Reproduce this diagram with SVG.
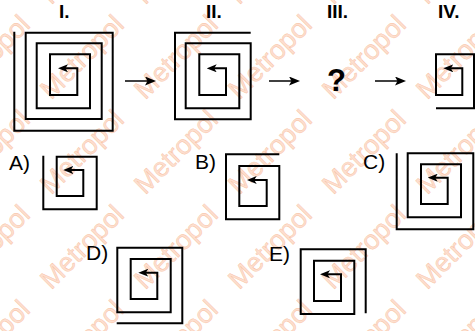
<svg xmlns="http://www.w3.org/2000/svg" width="475" height="331" viewBox="0 0 475 331">
<style>
.wm{font-family:"Liberation Sans",Arial,sans-serif;font-size:27px;fill:#fddfcf;stroke:#f8bd9d;stroke-width:0.4;text-anchor:middle;dominant-baseline:central}
.sp{fill:none;stroke:#000;stroke-width:2;marker-start:url(#sh)}
.rn{font-family:"Liberation Sans",Arial,sans-serif;font-weight:bold;font-size:19px;fill:#000}
.op{font-family:"Liberation Sans",Arial,sans-serif;font-size:21px;fill:#000}
.cn{stroke:#000;stroke-width:1.5;fill:none;marker-end:url(#ah)}
</style>
<defs>
<marker id="sh" markerUnits="userSpaceOnUse" viewBox="0 0 10 8" markerWidth="10" markerHeight="8" refX="3" refY="4" orient="auto-start-reverse">
<path d="M0,0 L10,4 L0,8 L2.5,4 z" fill="#000"/>
</marker>
<marker id="ah" markerUnits="userSpaceOnUse" viewBox="0 0 11 9" markerWidth="11" markerHeight="9" refX="5" refY="4.5" orient="auto">
<path d="M0,0 L11,4.5 L0,9 L2.5,4.5 z" fill="#000"/>
</marker>
</defs>
<rect width="475" height="331" fill="#fff"/>
<g id="watermark">
<text class="wm" x="-12" y="-38" transform="rotate(-45 -12 -38)">Metropol</text>
<text class="wm" x="82" y="-38" transform="rotate(-45 82 -38)">Metropol</text>
<text class="wm" x="176" y="-38" transform="rotate(-45 176 -38)">Metropol</text>
<text class="wm" x="270" y="-38" transform="rotate(-45 270 -38)">Metropol</text>
<text class="wm" x="364" y="-38" transform="rotate(-45 364 -38)">Metropol</text>
<text class="wm" x="458" y="-38" transform="rotate(-45 458 -38)">Metropol</text>
<text class="wm" x="-12" y="57" transform="rotate(-45 -12 57)">Metropol</text>
<text class="wm" x="82" y="57" transform="rotate(-45 82 57)">Metropol</text>
<text class="wm" x="176" y="57" transform="rotate(-45 176 57)">Metropol</text>
<text class="wm" x="270" y="57" transform="rotate(-45 270 57)">Metropol</text>
<text class="wm" x="364" y="57" transform="rotate(-45 364 57)">Metropol</text>
<text class="wm" x="458" y="57" transform="rotate(-45 458 57)">Metropol</text>
<text class="wm" x="-12" y="152" transform="rotate(-45 -12 152)">Metropol</text>
<text class="wm" x="82" y="152" transform="rotate(-45 82 152)">Metropol</text>
<text class="wm" x="176" y="152" transform="rotate(-45 176 152)">Metropol</text>
<text class="wm" x="270" y="152" transform="rotate(-45 270 152)">Metropol</text>
<text class="wm" x="364" y="152" transform="rotate(-45 364 152)">Metropol</text>
<text class="wm" x="458" y="152" transform="rotate(-45 458 152)">Metropol</text>
<text class="wm" x="-12" y="247" transform="rotate(-45 -12 247)">Metropol</text>
<text class="wm" x="82" y="247" transform="rotate(-45 82 247)">Metropol</text>
<text class="wm" x="176" y="247" transform="rotate(-45 176 247)">Metropol</text>
<text class="wm" x="270" y="247" transform="rotate(-45 270 247)">Metropol</text>
<text class="wm" x="364" y="247" transform="rotate(-45 364 247)">Metropol</text>
<text class="wm" x="458" y="247" transform="rotate(-45 458 247)">Metropol</text>
<text class="wm" x="-12" y="342" transform="rotate(-45 -12 342)">Metropol</text>
<text class="wm" x="82" y="342" transform="rotate(-45 82 342)">Metropol</text>
<text class="wm" x="176" y="342" transform="rotate(-45 176 342)">Metropol</text>
<text class="wm" x="270" y="342" transform="rotate(-45 270 342)">Metropol</text>
<text class="wm" x="364" y="342" transform="rotate(-45 364 342)">Metropol</text>
<text class="wm" x="458" y="342" transform="rotate(-45 458 342)">Metropol</text>
</g>
<g id="fig-I">
<text class="rn" x="59" y="18">I.</text>
<path class="sp" d="M65,68.3 H77.3 V95 H50 V54.3 H90 V108.3 H36.7 V43.3 H101.7 V119 H25.7 V32.7 H112.7 V130.7 H14.3 V31.7"/>
</g>
<g id="fig-II">
<text class="rn" x="206" y="18">II.</text>
<path class="sp" d="M213.7,68.3 H226 V95 H199.3 V54.3 H239.3 V108.3 H185.7 V43.3 H250.7 V119.3 H175 V32.7 H250.7"/>
</g>
<g id="fig-III">
<text class="rn" x="327" y="18">III.</text>
<text class="rn" x="327" y="91" style="font-size:31px">?</text>
</g>
<g id="fig-IV">
<text class="rn" x="438" y="18">IV.</text>
<path class="sp" d="M450.3,68.3 H462.3 V95 H436 V54.3 H474 V108.3 H436"/>
</g>
<g id="opt-A">
<text class="op" x="9" y="170">A)</text>
<path class="sp" d="M70.3,170 H83.3 V196 H56.7 V156.7 H96.7 V209.3 H43.3 V155.7"/>
</g>
<g id="opt-B">
<text class="op" x="195" y="169">B)</text>
<path class="sp" d="M253.7,180 H266.7 V206 H239.3 V166 H279.3 V219.3 H226 V154.3 H279.3"/>
</g>
<g id="opt-C">
<text class="op" x="363" y="169">C)</text>
<path class="sp" d="M434.7,177.7 H447.7 V204 H421 V164.3 H461 V217.3 H407.7 V153.3 H473.3 V229.3 H396.7 V153.3"/>
</g>
<g id="opt-D">
<text class="op" x="86" y="260">D)</text>
<path class="sp" d="M145.3,272.7 H157.3 V299 H130.7 V259 H170.7 V312.3 H117.3 V247.7 H182.3 V323.3 H116.7"/>
</g>
<g id="opt-E">
<text class="op" x="269" y="261">E)</text>
<path class="sp" d="M327,274.3 H341 V301 H314 V260.7 H354.3 V314 H300.7 V249.3 H365.7 V313.3"/>
</g>
<g id="connectors">
<line class="cn" x1="125" y1="81" x2="150" y2="81"/>
<line class="cn" x1="269" y1="81" x2="294" y2="81"/>
<line class="cn" x1="375" y1="81" x2="400" y2="81"/>
</g>
</svg>
